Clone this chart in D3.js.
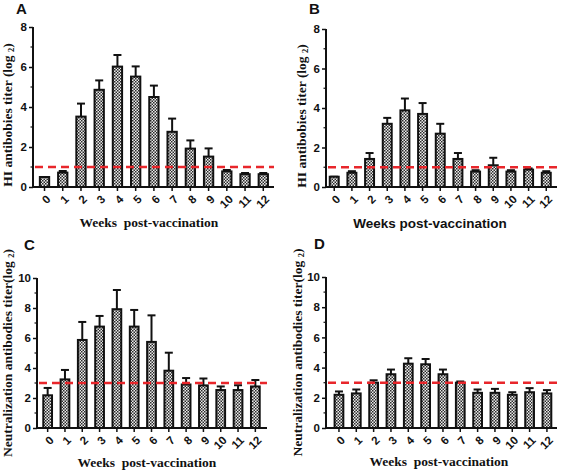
<!DOCTYPE html>
<html><head><meta charset="utf-8">
<script src="https://cdn.jsdelivr.net/npm/d3@7"></script>
<style>body{margin:0;background:#fff}svg{display:block}</style>
</head><body>
<script>
const weeks = ["0","1","2","3","4","5","6","7","8","9","10","11","12"];
const hiMeanA = [0.5,0.72,3.52,4.86,6.02,5.52,4.5,2.76,1.92,1.52,0.78,0.64,0.64];
const hiErrA  = [0.5,0.8,4.17,5.33,6.6,6.03,5.07,3.42,2.33,1.93,0.85,0.7,0.7];
const hiMeanB = [0.52,0.72,1.42,3.2,3.88,3.7,2.7,1.42,0.78,1.1,0.78,0.88,0.72];
const hiErrB  = [0.52,0.8,1.72,3.5,4.48,4.25,3.2,1.72,0.85,1.48,0.85,0.94,0.8];
const ntMeanC = [2.18,3.24,5.87,6.76,7.92,6.76,5.74,3.82,2.9,2.84,2.53,2.53,2.77];
const ntErrC  = [2.67,3.87,7.07,7.47,9.2,7.87,7.51,5.02,3.33,3.3,2.77,2.85,3.2];
const ntMeanD = [2.2,2.29,3.0,3.56,4.26,4.22,3.56,3.0,2.33,2.33,2.2,2.37,2.29];
const ntErrD  = [2.42,2.55,3.16,3.87,4.62,4.57,3.87,3.08,2.55,2.59,2.37,2.64,2.51];
const yTicksHI = [0,2,4,6,8];
const yTicksNT = [0,2,4,6,8,10];
const cutoffHI = 1, cutoffNT = 3;

const W = 567, H = 471;
const svg = d3.select("body").append("svg").attr("width", W).attr("height", H);
const defs = svg.append("defs");
const pat = defs.append("pattern").attr("id","chk").attr("patternUnits","userSpaceOnUse")
  .attr("width",3).attr("height",3);
pat.append("rect").attr("width",3).attr("height",3).attr("fill","#ececec");
pat.append("rect").attr("x",0).attr("y",0).attr("width",1.5).attr("height",1.5).attr("fill","#2a2a2a");
pat.append("rect").attr("x",1.5).attr("y",1.5).attr("width",1.5).attr("height",1.5).attr("fill","#2a2a2a");

const sansB = "Arial, 'Liberation Sans', sans-serif";
const serifB = "'Times New Roman', 'Liberation Serif', serif";

function panel(o) {
  const g = svg.append("g");
  const x = d3.scaleBand().domain(weeks).range([o.bx0, o.bx1]).paddingInner(0.38).paddingOuter(0.19);
  const y = d3.scaleLinear().domain([0, o.ymax]).range([o.bottom, o.top]);
  const bw = x.bandwidth();
  const eb = g.append("g").attr("stroke","#111").attr("stroke-width",2);
  weeks.forEach((w,i) => {
    const cx = x(w) + bw/2;
    eb.append("line").attr("x1",cx).attr("x2",cx).attr("y1",y(o.mean[i])).attr("y2",y(o.err[i]));
    eb.append("line").attr("x1",cx-4).attr("x2",cx+4).attr("y1",y(o.err[i])).attr("y2",y(o.err[i]));
  });
  g.append("g").selectAll("rect").data(weeks).join("rect")
    .attr("x", d => x(d)+1).attr("width", bw-2)
    .attr("y", (d,i) => y(o.mean[i])).attr("height", (d,i) => o.bottom - y(o.mean[i]))
    .attr("fill","url(#chk)").attr("stroke","#111").attr("stroke-width",2);
  g.append("line").attr("x1", o.left+2).attr("x2", o.right).attr("y1", y(o.cut)).attr("y2", y(o.cut))
    .attr("stroke","#e8262b").attr("stroke-width",2.5).attr("stroke-dasharray","8,5");
  const ya = g.append("g").attr("transform",`translate(${o.left},0)`)
    .call(d3.axisLeft(y).tickValues(o.yticks).tickSize(4).tickPadding(2).tickFormat(d3.format("d")));
  ya.select(".domain").attr("stroke","#111").attr("stroke-width",2).attr("d",`M0,${o.bottom}V${o.top}`);
  ya.selectAll(".tick line").attr("stroke","#111").attr("stroke-width",1.5);
  ya.selectAll("text").attr("font-family",sansB).attr("font-weight","bold").attr("font-size",11.5).attr("fill","#111");
  const minors = d3.range(1, o.ymax, 2);
  ya.selectAll(".minor").data(minors).join("line").attr("class","minor")
    .attr("x1",-2.5).attr("x2",0).attr("y1",d=>y(d)).attr("y2",d=>y(d)).attr("stroke","#111").attr("stroke-width",1.2);
  const xa = g.append("g").attr("transform",`translate(0,${o.bottom})`)
    .call(d3.axisBottom(x).tickSize(4).tickFormat(""));
  xa.select(".domain").attr("stroke","#111").attr("stroke-width",2).attr("d",`M${o.left-1},0H${o.right}`);
  xa.selectAll(".tick line").attr("stroke","#111").attr("stroke-width",1.5);
  g.append("g").selectAll("text").data(weeks).join("text")
    .attr("transform", d => `translate(${x(d)+bw/2+4},${o.bottom+10}) rotate(-45)`)
    .attr("text-anchor","end").attr("dy","0.35em")
    .attr("font-family",sansB).attr("font-weight","bold").attr("font-size",11.5).attr("fill","#111")
    .text(d => d);
  const yt = g.append("text").attr("transform",`translate(${o.ytx},${(o.top+o.bottom)/2+o.ytdy}) rotate(-90)`)
    .attr("text-anchor","middle").attr("font-family",serifB).attr("font-weight","bold").attr("font-size",13.5).attr("fill","#111");
  yt.append("tspan").text(o.ytitle);
  yt.append("tspan").attr("font-size",8.5).attr("dy",2).text("2");
  yt.append("tspan").attr("dy",-2).text(")");
  g.append("text").attr("x",o.xtx).attr("y",o.xty).attr("text-anchor","middle")
    .attr("font-family", o.xsans ? sansB : serifB).attr("font-weight","bold")
    .attr("font-size", 13.5).attr("fill","#111").attr("xml:space","preserve").text(o.xtitle);
  g.append("text").attr("x",o.lx).attr("y",o.ly).attr("font-family",sansB).attr("font-weight","bold")
    .attr("font-size",15).attr("fill","#111").text(o.label);
}

panel({label:"A", lx:16, ly:14, left:33, right:274, bx0:35.4, bx1:272.4, top:27, bottom:187, ymax:8,
  yticks:yTicksHI, mean:hiMeanA, err:hiErrA, cut:cutoffHI, ytitle:"HI antibobies titer (log ", ytx:12, ytdy:8,
  xtitle:"Weeks  post-vaccination", xtx:149, xty:227});
panel({label:"B", lx:309, ly:14, left:326, right:557, bx0:325.4, bx1:555.1, top:29, bottom:187, ymax:8,
  yticks:yTicksHI, mean:hiMeanB, err:hiErrB, cut:cutoffHI, ytitle:"HI antibobies titer (log ", ytx:306, ytdy:8,
  xtitle:"Weeks post-vaccination", xtx:430, xty:228, xsans:true});
panel({label:"C", lx:24, ly:250, left:37, right:267, bx0:39, bx1:264, top:278, bottom:428, ymax:10,
  yticks:yTicksNT, mean:ntMeanC, err:ntErrC, cut:cutoffNT, ytitle:"Neutralization antibodies titer(log ", ytx:12, ytdy:0,
  xtitle:"Weeks  post-vaccination", xtx:147, xty:467});
panel({label:"D", lx:314, ly:249, left:326, right:557, bx0:330.3, bx1:555.6, top:277, bottom:428, ymax:10,
  yticks:yTicksNT, mean:ntMeanD, err:ntErrD, cut:cutoffNT, ytitle:"Neutralization antibodies titer(log ", ytx:302, ytdy:0,
  xtitle:"Weeks  post-vaccination", xtx:439, xty:466});
</script>
</body></html>
